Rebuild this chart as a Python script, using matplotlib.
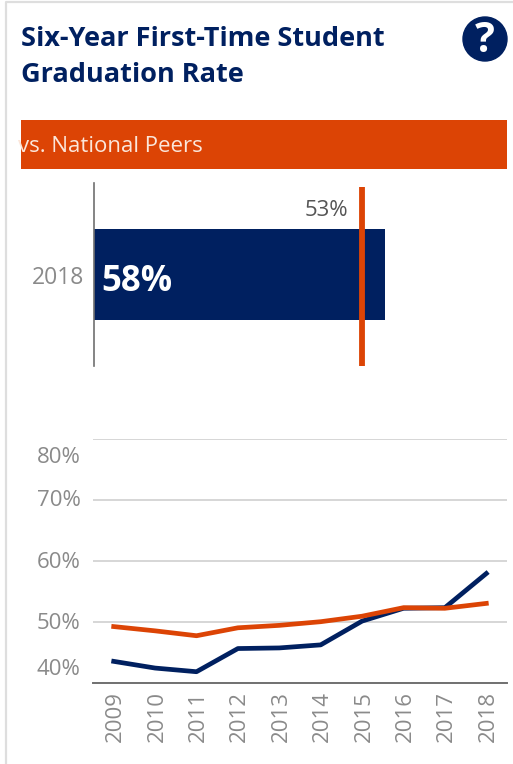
import matplotlib
matplotlib.use("Agg")
import matplotlib.pyplot as plt
from matplotlib.patches import Rectangle, Circle, Polygon
from matplotlib.transforms import ScaledTranslation

plt.rcParams['font.family'] = ['Open Sans', 'DejaVu Sans']

NAVY = '#002060'
ORANGE = '#dc4405'
GREY = '#8a8a8a'

title_lines = ['Six-Year First-Time Student', 'Graduation Rate']
banner = 'vs. National Peers'
bar_year = '2018'
bar_value = 58
peer_value = 53.4

years = ['2009', '2010', '2011', '2012', '2013', '2014', '2015', '2016', '2017', '2018']
school = [43.5, 42.4, 41.8, 45.6, 45.7, 46.2, 50.1, 52.2, 52.3, 57.9]
peers = [49.2, 48.5, 47.7, 49.0, 49.4, 50.0, 50.9, 52.3, 52.2, 53.0]
y_ticks = [40, 50, 60, 70, 80]

W, H = 513, 764
fig = plt.figure(figsize=(W / 100, H / 100), dpi=100)

def px_axes(x0, y0, x1, y1):
    return fig.add_axes([x0 / W, 1 - y1 / H, (x1 - x0) / W, (y1 - y0) / H])

# background stuff in pixel coordinates
bg = fig.add_axes([0, 0, 1, 1])
bg.set_xlim(0, W)
bg.set_ylim(H, 0)
bg.axis('off')
bg.plot([6, 6, W], [H, 2, 2], color='#dedede', lw=1.6)

bg.text(21, 39, title_lines[0], color=NAVY, fontsize=19.5, fontweight='bold', va='center')
bg.text(21, 75, title_lines[1], color=NAVY, fontsize=19.5, fontweight='bold', va='center')

bg.add_patch(Circle((485, 39), 22, color=NAVY))
bg.text(485, 41, '?', color='white', fontsize=30, fontweight='bold', ha='center', va='center')

rect = Rectangle((21, 119.5), 486, 49.5, color=ORANGE, lw=0)
bg.add_patch(rect)
t = bg.text(18, 147, banner, color='#fbe6da', fontsize=16, va='center')
t.set_clip_path(rect)

bg.add_patch(Polygon([(460, 252), (483, 275), (460, 298), (437, 275)], color='#b1c0cd', lw=0))
bg.plot([451, 458, 469], [275, 282, 268], color='#e8edf1', lw=2.2)

# bar vs peers
ax1 = px_axes(94, 183, 507, 366)
ax1.barh([0], [bar_value], height=0.5, color=NAVY)
ax1.plot([peer_value, peer_value], [-0.48, 0.5], color=ORANGE, lw=4.2, solid_capstyle='butt')
ax1.set_xlim(0, 413 / 5.02)
ax1.set_ylim(-0.5, 0.5)
ax1.invert_yaxis()
ax1.set_yticks([0])
ax1.set_yticklabels([bar_year], color=GREY, fontsize=16.5)
ax1.tick_params(axis='y', length=0, pad=7)
ax1.set_xticks([])
for s in ['top', 'right', 'bottom']:
    ax1.spines[s].set_visible(False)
ax1.spines['left'].set_color('#707070')
ax1.spines['left'].set_linewidth(1.2)
ax1.text(1.4, 0.04, f'{bar_value}%', color='white', fontsize=25, fontweight='bold', va='center')
ax1.text(peer_value - 2.8, -0.35, f'{peer_value:.0f}%', color='#555555', fontsize=16, ha='right', va='center')

# trend
ax2 = px_axes(93, 438.7, 507, 682.7)
ax2.plot(years, school, color=NAVY, lw=3.4)
ax2.plot(years, peers, color=ORANGE, lw=3.4)
ax2.set_xlim(-0.5, 9.5)
ax2.set_ylim(40, 80)
ax2.set_yticks(y_ticks)
ax2.set_yticklabels([])
ax2.tick_params(axis='both', length=0)
ax2.tick_params(axis='x', labelrotation=90, labelcolor=GREY, labelsize=16, pad=6)
for lab in ax2.get_xticklabels():
    lab.set_transform(lab.get_transform() + ScaledTranslation(0.018, 0, fig.dpi_scale_trans))
ax2.grid(axis='y', color='#d6d6d6', lw=1.4)
ax2.set_axisbelow(True)
for s in ['top', 'right', 'left']:
    ax2.spines[s].set_visible(False)
ax2.spines['bottom'].set_color('#707070')
ax2.spines['bottom'].set_linewidth(1.4)
# end labels get pushed inside the plot range
for v, off in zip(y_ticks, [-1.4 + 11, -1.4, -1.4, -0.5, -1.4 - 12]):
    ax2.annotate(f'{v}%', (0, v), xycoords=('axes fraction', 'data'), xytext=(-9, off),
                 textcoords='offset points', color=GREY, fontsize=16,
                 ha='right', va='center', annotation_clip=False)

fig.savefig('out.png', dpi=100)
